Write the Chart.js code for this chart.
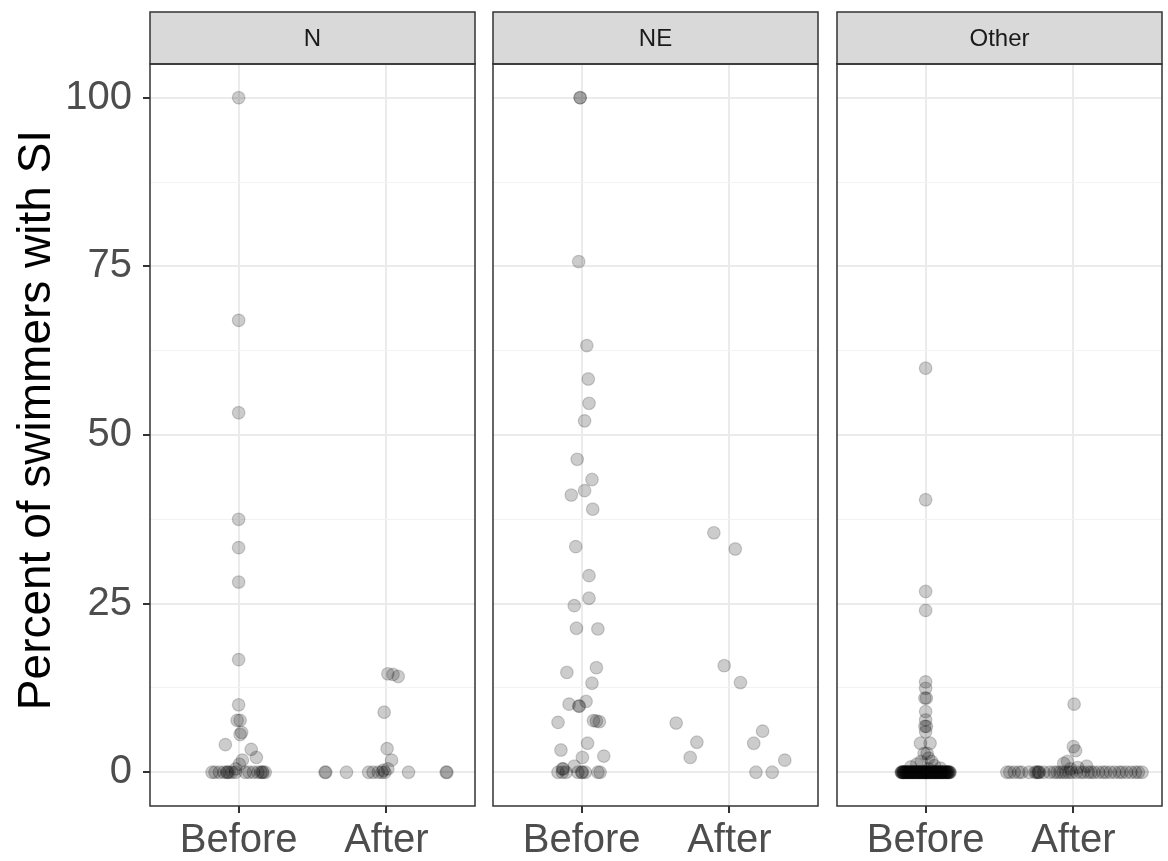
<!DOCTYPE html>
<html><head><meta charset="utf-8">
<script src="https://cdn.jsdelivr.net/npm/chart.js@4"></script>
<style>
html,body{margin:0;padding:0;background:#fff;}
#wrap{position:relative;width:1168px;height:861px;overflow:hidden;}
canvas{position:absolute;left:0;top:0;}
</style></head><body>
<div id="wrap">
<canvas id="cN" width="1168" height="861"></canvas>
<canvas id="cNE" width="1168" height="861"></canvas>
<canvas id="cOther" width="1168" height="861"></canvas>
</div>
<script>
// ---------------- DATA ----------------
const categories = ['Before', 'After'];
const panelNames = ['N', 'NE', 'Other'];
const yTickValues = [0, 25, 50, 75, 100];
const yMinorValues = [12.5, 37.5, 62.5, 87.5];
const yTitle = 'Percent of swimmers with SI';

// Panel N
const nBeforeValues = [100, 67, 53.3, 37.5, 33.3, 28.2, 16.7, 10, 7.7, 7.7, 5.6, 5.9, 4.1, 3.4, 2.2, 1.8, 1.2, 0.5,
  0, 0, 0, 0, 0, 0, 0, 0, 0, 0, 0, 0, 0, 0, 0, 0, 0];
const nBeforeJitter = [0, 0, 0, 0, 0, 0, 0, 0, -0.01, 0.01, 0.01, 0.02, -0.09, 0.085, 0.12, 0.025, 0.005, -0.02,
  -0.18, -0.16, -0.13, -0.1, -0.08, -0.075, -0.065, -0.045, -0.02, 0.045, 0.07, 0.1, 0.13, 0.15, 0.16, 0.165, 0.18];
const nAfterValues = [14.6, 14.5, 14.2, 8.9, 3.5, 1.8, 0.5, 0.3,
  0, 0, 0, 0, 0, 0, 0, 0, 0, 0, 0];
const nAfterJitter = [0.01, 0.045, 0.08, -0.015, 0.005, 0.035, 0.01, -0.02,
  -0.415, -0.41, -0.27, -0.12, -0.09, -0.055, -0.03, -0.01, 0.15, 0.405, 0.41];

// Panel NE
const neBeforeValues = [100, 100, 75.7, 63.25, 58.3, 54.7, 52.1, 46.4, 43.4, 41.75, 41.1, 39.0, 33.45, 29.15, 25.8, 24.7,
  21.35, 21.25, 15.5, 14.8, 13.2, 10.5, 10.1, 9.8, 9.8, 7.65, 7.6, 7.5, 7.4, 4.3, 3.3, 2.4, 2.2, 0.9, 0.5, 0.5,
  0, 0, 0, 0, 0, 0, 0, 0, 0];
const neBeforeJitter = [-0.01, -0.01, -0.02, 0.035, 0.045, 0.05, 0.02, -0.03, 0.07, 0.02, -0.07, 0.075, -0.04, 0.05, 0.05, -0.05,
  -0.035, 0.11, 0.1, -0.1, 0.07, 0.03, -0.085, -0.02, -0.015, 0.08, 0.1, 0.12, -0.16, 0.04, -0.14, 0.15, 0.005, -0.05, -0.13, -0.125,
  -0.16, -0.13, -0.105, -0.025, 0, 0.005, 0.025, 0.11, 0.125];
const neAfterValues = [35.5, 33.1, 15.8, 13.3, 7.3, 6.1, 4.45, 4.3, 2.2, 1.8, 0, 0];
const neAfterJitter = [-0.105, 0.04, -0.035, 0.075, -0.36, 0.225, -0.22, 0.165, -0.265, 0.375, 0.18, 0.29];

// Panel Other
const otherBeforeValues = [59.9, 40.4, 26.8, 24.0, 13.4, 12.45, 11.0, 11.0, 9.0, 7.75, 6.8, 6.8, 6.0, 4.3, 4.3,
  2.8, 2.8, 2.1, 1.6, 1.6, 1.2, 1.0, 0.8, 0.6, 0.5,
  0, 0, 0, 0, 0, 0, 0, 0, 0, 0, 0, 0, 0, 0, 0, 0, 0, 0, 0, 0, 0, 0, 0, 0, 0,
  0, 0, 0, 0, 0, 0, 0, 0, 0, 0, 0, 0, 0, 0, 0, 0, 0, 0, 0, 0, 0, 0, 0, 0, 0,
  0, 0, 0, 0, 0, 0, 0, 0, 0, 0,
  0, 0, 0, 0, 0, 0, 0, 0, 0, 0, 0, 0, 0, 0, 0, 0, 0, 0, 0, 0,
  0, 0, 0, 0, 0, 0, 0, 0, 0, 0, 0, 0, 0, 0, 0, 0, 0, 0, 0, 0];
const otherBeforeJitter = [0, 0, 0, 0, 0, 0, -0.005, 0.005, 0, 0, -0.005, 0.005, 0, -0.035, 0.03,
  -0.01, 0.01, 0.02, -0.03, 0.04, -0.06, 0.06, -0.1, 0.1, 0.02,
  -0.165, -0.16, -0.15, -0.145, -0.14, -0.13, -0.125, -0.12, -0.11, -0.105, -0.1, -0.09, -0.085, -0.08, -0.07, -0.065, -0.06, -0.05, -0.045, -0.04, -0.03, -0.025, -0.02, -0.01,
  -0.005, 0, 0.005, 0.015, 0.02, 0.03, 0.035, 0.04, 0.05, 0.055, 0.06, 0.07, 0.075, 0.08, 0.09, 0.095, 0.1, 0.11, 0.115, 0.12, 0.13, 0.135, 0.14, 0.15, 0.155,
  0.165, -0.155, -0.135, -0.095, -0.055, -0.015, 0.025, 0.065, 0.105, 0.145,
  -0.162, -0.148, -0.138, -0.118, -0.108, -0.092, -0.078, -0.068, -0.052, -0.038, -0.028, -0.012, 0.002, 0.012, 0.028, 0.042, 0.058, 0.068, 0.082, 0.098,
  -0.152, -0.128, -0.112, -0.088, -0.072, -0.048, -0.032, -0.008, 0.008, 0.032, 0.048, 0.072, 0.088, 0.108, 0.118, 0.128, 0.138, 0.148, 0.158, 0.162];
const otherAfterValues = [10.1, 3.8, 3.2, 1.6, 1.3, 0.9, 0.5, 0.7,
  0, 0, 0, 0, 0, 0, 0, 0, 0, 0, 0, 0, 0, 0, 0, 0, 0, 0, 0, 0, 0, 0, 0, 0, 0, 0, 0, 0, 0, 0, 0, 0, 0, 0, 0, 0, 0, 0];
const otherAfterJitter = [0.005, 0, 0.015, -0.04, -0.065, 0.09, -0.02, 0.03,
  -0.45, -0.43, -0.4, -0.37, -0.35, -0.3, -0.26, -0.25, -0.24, -0.235, -0.23, -0.2, -0.16, -0.13, -0.11, -0.09, -0.07,
  -0.05, -0.03, -0.01, 0.02, 0.05, 0.07, 0.1, 0.12, 0.14, 0.17, 0.2, 0.22, 0.25, 0.28, 0.31, 0.33, 0.36, 0.39, 0.42, 0.44, 0.465];

// ---------------- STYLE / LAYOUT ----------------
const FONT = "'Liberation Sans', Arial, Helvetica, sans-serif";
const W = 1168, H = 861;
const PLOT_TOP = 64, PLOT_BOTTOM = 806, STRIP_TOP = 12;
const panelBounds = [[150, 475], [493, 818], [837, 1162]];

function buildPoints(values, jitter, catIndex) {
  return values.map((v, i) => ({ x: catIndex + 1 + jitter[i], y: v }));
}

const stripPlugin = {
  id: 'facetStrip',
  afterDraw(chart, args, opts) {
    const ctx = chart.ctx, a = chart.chartArea;
    ctx.save();
    ctx.fillStyle = '#D9D9D9';
    ctx.fillRect(a.left, STRIP_TOP, a.right - a.left, a.top - STRIP_TOP);
    ctx.strokeStyle = '#333333';
    ctx.lineWidth = 1.5;
    ctx.strokeRect(a.left, STRIP_TOP, a.right - a.left, a.top - STRIP_TOP);
    ctx.fillStyle = '#1A1A1A';
    ctx.font = '24px ' + FONT;
    ctx.textAlign = 'center';
    ctx.textBaseline = 'middle';
    ctx.fillText(opts.label, (a.left + a.right) / 2, (STRIP_TOP + a.top) / 2 + 1);
    ctx.strokeRect(a.left, a.top, a.right - a.left, a.bottom - a.top);
    if (opts.yTitle) {
      ctx.translate(50, 420);
      ctx.rotate(-Math.PI / 2);
      ctx.fillStyle = '#000000';
      ctx.font = '46px ' + FONT;
      ctx.textAlign = 'center';
      ctx.textBaseline = 'alphabetic';
      ctx.fillText(opts.yTitle, 0, 0);
    }
    ctx.restore();
  }
};

function makePanel(canvasId, label, bVals, bJit, aVals, aJit, bounds, showY) {
  const [left, right] = bounds;
  const pts = buildPoints(bVals, bJit, 0).concat(buildPoints(aVals, aJit, 1));
  const isMajor = v => yTickValues.includes(v);
  return new Chart(document.getElementById(canvasId), {
    type: 'scatter',
    data: {
      datasets: [{
        data: pts,
        pointRadius: 6.3,
        pointHoverRadius: 6.3,
        backgroundColor: 'rgba(0,0,0,0.2)',
        borderColor: 'rgba(0,0,0,0.18)',
        borderWidth: 1.2
      }]
    },
    options: {
      responsive: false,
      animation: false,
      devicePixelRatio: 1,
      events: [],
      layout: { autoPadding: false, padding: { left: showY ? 0 : left, right: W - right, top: PLOT_TOP, bottom: 0 } },
      plugins: { legend: { display: false }, tooltip: { enabled: false }, facetStrip: { label, yTitle: showY ? yTitle : null } },
      scales: {
        x: {
          type: 'linear', min: 0.4, max: 2.6,
          afterBuildTicks: s => { s.ticks = categories.map((c, i) => ({ value: i + 1 })); },
          afterFit: s => { s.height = H - PLOT_BOTTOM; },
          ticks: {
            callback: v => categories[Math.round(v) - 1],
            color: '#4D4D4D', font: { family: FONT, size: 40 }, padding: 4,
            maxRotation: 0, minRotation: 0, autoSkip: false
          },
          grid: { color: '#EBEBEB', lineWidth: 2, tickLength: 7, tickColor: '#333333', tickWidth: 2, drawTicks: true },
          border: { display: false }
        },
        y: {
          type: 'linear', min: -5, max: 105,
          afterBuildTicks: s => { s.ticks = yTickValues.concat(yMinorValues).sort((p, q) => p - q).map(v => ({ value: v })); },
          afterFit: s => { s.width = showY ? left : 0; },
          ticks: {
            display: showY,
            callback: v => isMajor(v) ? String(v) : '',
            color: '#4D4D4D', font: { family: FONT, size: 40 }, padding: 11, autoSkip: false
          },
          grid: {
            color: c => isMajor(c.tick.value) ? '#EBEBEB' : '#F2F2F2',
            lineWidth: c => isMajor(c.tick.value) ? 2 : 1,
            tickColor: c => isMajor(c.tick.value) ? '#333333' : 'rgba(0,0,0,0)',
            tickWidth: 2, tickLength: 7, drawTicks: showY
          },
          border: { display: false },
          title: { display: false }
        }
      }
    },
    plugins: [stripPlugin]
  });
}

makePanel('cN', panelNames[0], nBeforeValues, nBeforeJitter, nAfterValues, nAfterJitter, panelBounds[0], true);
makePanel('cNE', panelNames[1], neBeforeValues, neBeforeJitter, neAfterValues, neAfterJitter, panelBounds[1], false);
makePanel('cOther', panelNames[2], otherBeforeValues, otherBeforeJitter, otherAfterValues, otherAfterJitter, panelBounds[2], false);
</script>
</body></html>
